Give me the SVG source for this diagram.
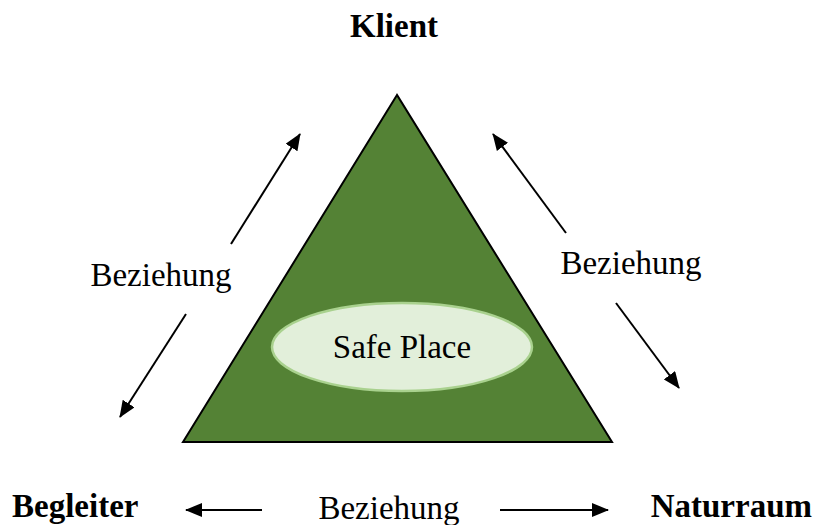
<svg xmlns="http://www.w3.org/2000/svg" width="815" height="525" viewBox="0 0 815 525">
<style>
.t{font-family:"Liberation Serif","Times New Roman",serif;font-size:33px;fill:#000}
.b{font-weight:bold}
.a{stroke:#000;stroke-width:2;fill:none;marker-end:url(#ah)}
</style>
<defs>
<marker id="ah" markerUnits="userSpaceOnUse" markerWidth="18" markerHeight="14" refX="16" refY="7" orient="auto">
<path d="M0,0 L17,7 L0,14 Z" fill="#000"/>
</marker>
</defs>
<rect width="815" height="525" fill="#fff"/>
<g id="triangle">
<polygon points="397,95 183,442 612,442" fill="#548235" stroke="#000" stroke-width="2" stroke-linejoin="miter"/>
</g>
<g id="safe-place">
<ellipse cx="402" cy="347" rx="130" ry="44" fill="#e2efda" stroke="#a9d18e" stroke-width="2.5"/>
<text class="t" x="402" y="358" text-anchor="middle">Safe Place</text>
</g>
<g id="klient"><text class="t b" x="394" y="37" text-anchor="middle">Klient</text></g>
<g id="begleiter"><text class="t b" x="12" y="517">Begleiter</text></g>
<g id="naturraum"><text class="t b" x="812" y="517" text-anchor="end">Naturraum</text></g>
<g id="labels">
<text class="t" x="161" y="286" text-anchor="middle">Beziehung</text>
<text class="t" x="631" y="274" text-anchor="middle">Beziehung</text>
<text class="t" x="389" y="519" text-anchor="middle">Beziehung</text>
</g>
<g id="connectors">
<line class="a" x1="231" y1="244" x2="300" y2="134"/>
<line class="a" x1="186" y1="314" x2="120" y2="417"/>
<line class="a" x1="566" y1="233" x2="493" y2="134"/>
<line class="a" x1="616" y1="303" x2="679" y2="388"/>
<line class="a" x1="262" y1="510" x2="186" y2="510"/>
<line class="a" x1="500" y1="510" x2="608" y2="510"/>
</g>
</svg>
